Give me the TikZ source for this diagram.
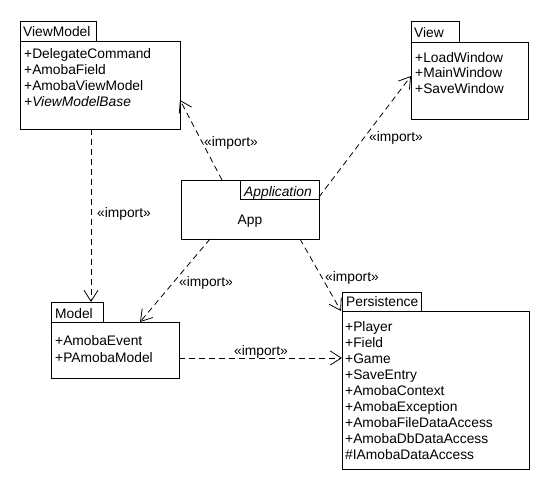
\documentclass[tikz,border=0pt]{standalone}
\usepackage{fontspec}
\setmainfont{Liberation Sans}
\usetikzlibrary{arrows.meta,calc}
\begin{document}
\begin{tikzpicture}[x=1pt,y=-1pt,
  box/.style={draw,line width=0.9pt,anchor=north west,inner sep=0pt,outer sep=0pt},
  item/.style={anchor=base west,inner sep=0pt,font=\fontsize{13.8}{16}\selectfont},
  dep/.style={line width=0.8pt,dash pattern=on 6pt off 4pt,
    -{Straight Barb[length=11pt,width=14pt,line width=0.8pt]}},
  stereo/.style={inner sep=0pt,font=\fontsize{13.8}{16}\selectfont}]
\useasboundingbox[fill=white] (0,0) rectangle (550,490);

% ViewModel package
\node[box,minimum width=76pt,minimum height=20pt] (vmtab) at (20,21) {};
\node[box,minimum width=160pt,minimum height=88pt] (vm) at (20,41) {};
\node[item] (vmname) at (23,36) {ViewModel};
\node[item] (vm1) at (24,58) {+DelegateCommand};
\node[item] (vm2) at (24,74) {+AmobaField};
\node[item] (vm3) at (24,90) {+AmobaViewModel};
\node[item] (vm4) at (24,106) {\itshape +ViewModelBase};

% View package
\node[box,minimum width=48pt,minimum height=21pt] (viewtab) at (411,21) {};
\node[box,minimum width=117pt,minimum height=77pt] (view) at (411,42) {};
\node[item] (viewname) at (414,37) {View};
\node[item] (view1) at (415,62) {+LoadWindow};
\node[item] (view2) at (415,77.5) {+MainWindow};
\node[item] (view3) at (415,93) {+SaveWindow};

% Application package
\node[box,minimum width=138pt,minimum height=59pt] (app) at (181,180) {};
\node[box,minimum width=79pt,minimum height=19pt] (apptab) at (240,180) {};
\node[item] (appname) at (244,196) {\itshape Application};
\node[stereo,anchor=base] (appcls) at (250,224) {App};

% Model package
\node[box,minimum width=52pt,minimum height=20pt] (modeltab) at (51,302) {};
\node[box,minimum width=128pt,minimum height=56pt] (model) at (51,322) {};
\node[item] (modelname) at (55,318) {Model};
\node[item] (model1) at (55,345) {+AmobaEvent};
\node[item] (model2) at (55,362) {+PAmobaModel};

% Persistence package
\node[box,minimum width=79pt,minimum height=19pt] (perstab) at (342,292) {};
\node[box,minimum width=187pt,minimum height=158pt] (pers) at (342,311) {};
\node[item] (persname) at (346,306) {Persistence};
\node[item] (p1) at (345,331) {+Player};
\node[item] (p2) at (345,347) {+Field};
\node[item] (p3) at (345,363) {+Game};
\node[item] (p4) at (345,379) {+SaveEntry};
\node[item] (p5) at (345,395) {+AmobaContext};
\node[item] (p6) at (345,411) {+AmobaException};
\node[item] (p7) at (345,427) {+AmobaFileDataAccess};
\node[item] (p8) at (345,443) {+AmobaDbDataAccess};
\node[item] (p9) at (345,459) {\#IAmobaDataAccess};

% import dependencies
\draw[dep] ($(app.north west)+(41,0)$) -- ($(vm.north east)+(0,59)$);
\draw[dep] ($(app.north east)+(0,17)$) -- ($(view.north west)+(0,34)$);
\draw[dep] ($(vm.south west)+(71,0)$) -- ($(modeltab.north west)+(40,0)$);
\draw[dep] ($(app.south west)+(29,0)$) -- ($(model.north west)+(89,0)$);
\draw[dep] ($(app.south west)+(119,0)$) -- ($(pers.north west)+(-1,0)$);
\draw[dep] ($(model.north east)+(0,36)$) -- ($(pers.north west)+(0,47)$);

\node[stereo] (l1) at (231,143) {«import»};
\node[stereo] (l2) at (396,138) {«import»};
\node[stereo] (l3) at (124,214) {«import»};
\node[stereo] (l4) at (206,283) {«import»};
\node[stereo] (l5) at (352,278) {«import»};
\node[stereo] (l6) at (261,352) {«import»};
\end{tikzpicture}
\end{document}
